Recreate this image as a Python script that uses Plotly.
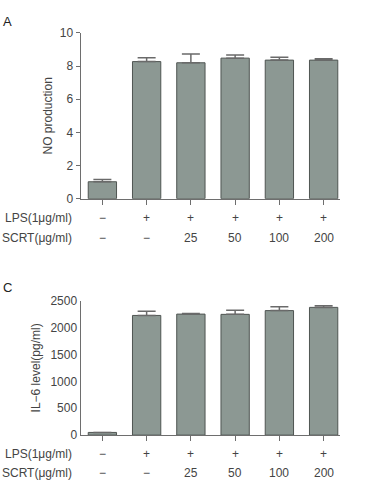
import plotly.graph_objects as go

groups = [0, 1, 2, 3, 4, 5]
lps_labels = ["−", "+", "+", "+", "+", "+"]
scrt_labels = ["−", "−", "25", "50", "100", "200"]

no_values = [1.02, 8.27, 8.2, 8.48, 8.36, 8.36]
no_err = [0.13, 0.23, 0.53, 0.19, 0.17, 0.08]

il6_values = [50, 2225, 2250, 2245, 2315, 2375]
il6_err = [0, 80, 12, 78, 72, 30]

no_ticks = [0, 2, 4, 6, 8, 10]
il6_ticks = [0, 500, 1000, 1500, 2000, 2500]

BAR = "#8c9893"
EDGE = "#4f5552"
AX = "#6e6e6e"
FONT = "Liberation Sans, Arial, sans-serif"
TXT = "#444444"
FS = 12

fig = go.Figure()

def add_bars(vals, errs, xa, ya):
    fig.add_trace(go.Bar(
        x=groups, y=vals, xaxis=xa, yaxis=ya, width=0.64,
        marker=dict(color=BAR, line=dict(color=EDGE, width=1)),
        error_y=dict(type="data", array=errs, arrayminus=[0]*len(errs), symmetric=False,
                     color="#6a6a6a", thickness=1.5, width=9),
        showlegend=False, hoverinfo="skip"))

add_bars(no_values, no_err, "x", "y")
add_bars(il6_values, il6_err, "x2", "y2")

xdom = [80.7/378, 340/378]
top_dom = [1-197.3/490, 1-26.7/490]
bot_dom = [1-440.7/490, 1-302.3/490]

xcommon = dict(range=[-0.49, 5.37], domain=xdom, showline=True, linecolor=AX, linewidth=1.3,
               ticks="outside", ticklen=5, tickcolor=AX, tickwidth=1.3, tickvals=groups,
               showticklabels=False, showgrid=False, zeroline=False, fixedrange=True)

fig.update_layout(
    width=378, height=490, margin=dict(l=0, r=0, t=0, b=0),
    paper_bgcolor="white", plot_bgcolor="white",
    font=dict(family=FONT, size=FS, color=TXT),
    xaxis=dict(anchor="y", **xcommon),
    xaxis2=dict(anchor="y2", **xcommon),
    yaxis=dict(domain=top_dom, range=[0, 10], tickvals=no_ticks, anchor="x",
               showline=True, linecolor=AX, linewidth=1.3, ticks="outside", ticklen=4,
               tickcolor=AX, tickwidth=1.3, showgrid=False, zeroline=False,
               tickfont=dict(size=FS, color=TXT),
               title=dict(text="NO production", font=dict(size=FS, color=TXT), standoff=4)),
    yaxis2=dict(domain=bot_dom, range=[0, 2500], tickvals=il6_ticks, anchor="x2",
                showline=True, linecolor=AX, linewidth=1.3, ticks="", showgrid=False,
                zeroline=False, tickfont=dict(size=FS, color=TXT),
                title=dict(text="IL−6 level(pg/ml)", font=dict(size=FS, color=TXT), standoff=7)),
)

ann = []
for (xa, ylps, yscrt) in [("x", 216.7, 237.3), ("x2", 460.0, 480.0)]:
    ann.append(dict(text="LPS(1μg/ml)", x=74/378, y=1-ylps/490, xref="paper", yref="paper",
                    xanchor="right", yanchor="middle", showarrow=False, font=dict(size=FS, color=TXT)))
    ann.append(dict(text="SCRT(μg/ml)", x=74/378, y=1-yscrt/490, xref="paper", yref="paper",
                    xanchor="right", yanchor="middle", showarrow=False, font=dict(size=FS, color=TXT)))
    for g, l, s in zip(groups, lps_labels, scrt_labels):
        ann.append(dict(text=l, x=g, y=1-ylps/490, xref=xa, yref="paper", xanchor="center",
                        yanchor="middle", showarrow=False, font=dict(size=FS, color=TXT)))
        ann.append(dict(text=s, x=g, y=1-yscrt/490, xref=xa, yref="paper", xanchor="center",
                        yanchor="middle", showarrow=False, font=dict(size=FS, color=TXT)))

ann.append(dict(text="A", x=1/378, y=1-15/490, xref="paper", yref="paper", xanchor="left",
                yanchor="middle", showarrow=False, font=dict(size=13, color="#222")))
ann.append(dict(text="C", x=1/378, y=1-289/490, xref="paper", yref="paper", xanchor="left",
                yanchor="middle", showarrow=False, font=dict(size=13, color="#222")))
fig.update_layout(annotations=ann)

fig.write_html("out.html")
